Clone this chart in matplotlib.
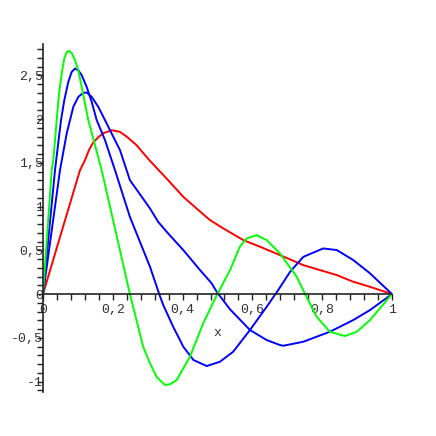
import matplotlib
matplotlib.use("Agg")
from matplotlib import pyplot as plt
from matplotlib.ticker import MultipleLocator, FuncFormatter
import numpy as np

# red curve (one hump)
red_x = [0, 0.05, 0.106, 0.1203, 0.132, 0.144, 0.16, 0.173, 0.197, 0.2206, 0.240, 0.268,
         0.305, 0.354, 0.402, 0.440, 0.4785, 0.5166, 0.545, 0.574, 0.622, 0.679, 0.746,
         0.794, 0.842, 0.889, 0.937, 1.0]
red_y = [0, 0.67, 1.417, 1.531, 1.65, 1.735, 1.80, 1.84, 1.874, 1.855, 1.80, 1.703,
         1.53, 1.322, 1.112, 0.979, 0.846, 0.751, 0.685, 0.617, 0.541, 0.446, 0.331,
         0.274, 0.217, 0.141, 0.083, 0]

# blue curve, one interior zero
blueb_x = [0, 0.0487, 0.0679, 0.0774, 0.0868, 0.1011, 0.1155, 0.1252, 0.1395, 0.1585,
           0.1777, 0.2206, 0.249, 0.3066, 0.330, 0.3544, 0.402, 0.45, 0.4834, 0.4977,
           0.536, 0.593, 0.641, 0.679, 0.6886, 0.746, 0.822, 0.889, 0.937, 1.0]
blueb_y = [0, 1.417, 1.837, 1.989, 2.141, 2.255, 2.301, 2.305, 2.255, 2.141,
           1.989, 1.646, 1.303, 0.979, 0.826, 0.712, 0.503, 0.274, 0.122, 0.026,
           -0.175, -0.411, -0.526, -0.583, -0.591, -0.545, -0.431, -0.297, -0.183, 0]

# blue curve, two interior zeros
bluea_x = [0, 0.0344, 0.0516, 0.061, 0.0725, 0.0822, 0.0917, 0.1011, 0.1109, 0.1252,
           0.1395, 0.1539, 0.1777, 0.2063, 0.249, 0.3066, 0.333, 0.344, 0.373, 0.402,
           0.431, 0.469, 0.507, 0.545, 0.593, 0.641, 0.674, 0.708, 0.746, 0.803,
           0.842, 0.889, 0.937, 1.0]
bluea_y = [0, 1.417, 1.989, 2.217, 2.426, 2.541, 2.579, 2.56, 2.503, 2.369,
           2.198, 1.989, 1.76, 1.417, 0.883, 0.312, 0.0, -0.12, -0.374, -0.602,
           -0.754, -0.823, -0.774, -0.659, -0.411, -0.145, 0.046, 0.255, 0.426, 0.522,
           0.503, 0.389, 0.237, 0]

# green curve, three interior zeros
green_x = [0, 0.025, 0.0295, 0.0393, 0.0458, 0.0536, 0.061, 0.0679, 0.0745, 0.0822,
           0.0917, 0.1011, 0.1109, 0.1203, 0.1298, 0.1681, 0.2, 0.249, 0.287, 0.3066,
           0.326, 0.3496, 0.365, 0.383, 0.421, 0.459, 0.4994, 0.536, 0.564, 0.584, 0.612,
           0.641, 0.679, 0.727, 0.751, 0.784, 0.822, 0.865, 0.899, 0.937, 1.0]
green_y = [0, 1.417, 1.531, 1.989, 2.294, 2.522, 2.694, 2.769, 2.781, 2.758,
           2.674, 2.56, 2.369, 2.179, 1.989, 1.417, 0.86, 0.0, -0.602, -0.792,
           -0.95, -1.04, -1.03, -0.983, -0.717, -0.335, 0.0, 0.274, 0.541, 0.637, 0.674,
           0.617, 0.465, 0.198, 0.0, -0.259, -0.431, -0.48, -0.431, -0.297, 0]

fig = plt.figure(figsize=(4.36, 4.36), dpi=100)
ax = fig.add_axes([43/436, 44/436, 349/436, 348/436])

lw = 1.4
ax.plot(red_x, red_y, color='#ff0000', lw=lw)
ax.plot(blueb_x, blueb_y, color='#0000ff', lw=lw)
ax.plot(bluea_x, bluea_y, color='#0000ff', lw=lw)
ax.plot(green_x, green_y, color='#00ff00', lw=lw)

ax.set_xlim(0, 1)
ax.set_ylim(-1.12, 2.86)

for s in ['top', 'right']:
    ax.spines[s].set_visible(False)
ax.spines['bottom'].set_position(('data', 0))
for s in ['left', 'bottom']:
    ax.spines[s].set_color('#222222')
    ax.spines[s].set_linewidth(1.2)

ax.xaxis.set_major_locator(MultipleLocator(0.2))
ax.xaxis.set_minor_locator(MultipleLocator(0.04))
ax.yaxis.set_major_locator(MultipleLocator(0.5))
ax.yaxis.set_minor_locator(MultipleLocator(0.1))

def comma(v, pos):
    s = ('%.1f' % v).rstrip('0').rstrip('.')
    if s == '-0':
        s = '0'
    return s.replace('.', ',')

ax.xaxis.set_major_formatter(FuncFormatter(comma))
ax.yaxis.set_major_formatter(FuncFormatter(comma))

font = 'Liberation Mono'
ax.tick_params(which='both', direction='out', length=4, width=1, color='#222222')
ax.tick_params(axis='y', which='major', pad=-4)
ax.tick_params(axis='x', which='major', pad=3)
for lab in ax.get_xticklabels() + ax.get_yticklabels():
    lab.set_fontfamily(font)
    lab.set_fontsize(9.5)
    lab.set_color('#333333')

ax.text(0.5, -0.446, 'x', ha='center', va='center', family=font, fontsize=9.5, color='#333333')

fig.savefig('out.png', dpi=100)
